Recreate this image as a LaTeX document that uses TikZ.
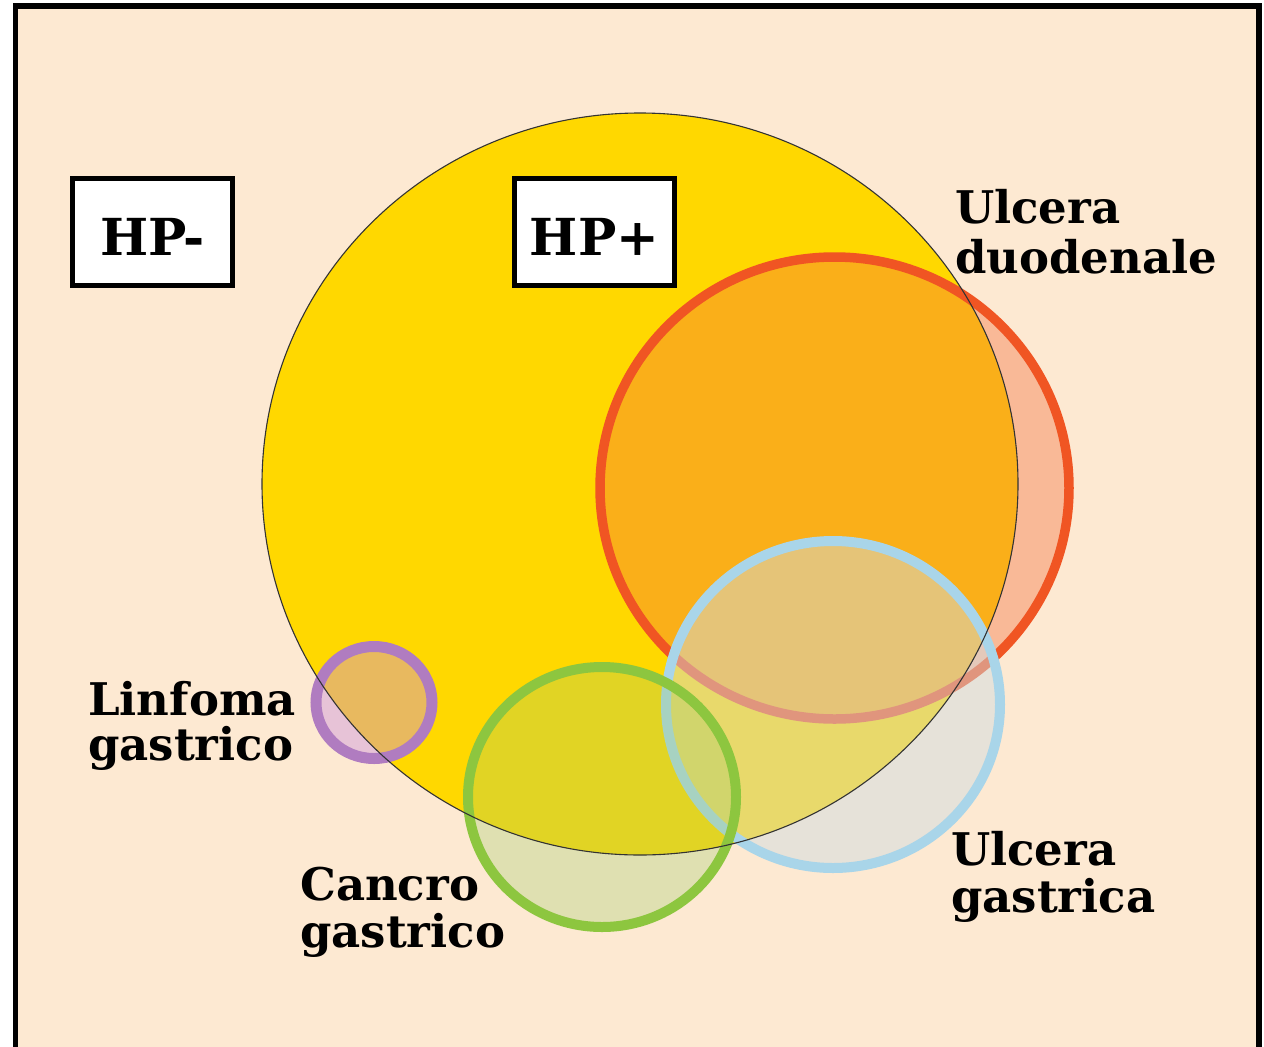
\documentclass[tikz,border=0pt]{standalone}
\usepackage{fontspec}
\setmainfont{DejaVu Serif}
\usetikzlibrary{positioning}

\definecolor{peach}{RGB}{253,233,210}
\definecolor{hpyellow}{RGB}{255,216,0}
\definecolor{duoring}{RGB}{240,85,35}
\definecolor{duofill}{RGB}{243,114,63}
\definecolor{gasring}{RGB}{169,213,233}
\definecolor{gasfill}{RGB}{207,219,225}
\definecolor{canring}{RGB}{141,198,63}
\definecolor{canfill}{RGB}{164,206,112}
\definecolor{linring}{RGB}{176,124,192}
\definecolor{linfill}{RGB}{202,146,222}

\begin{document}
\begin{tikzpicture}[
    x=1pt,
    y=-1pt,
    tagbox/.style={
        draw,
        line width=5pt,
        fill=white,
        minimum width=160pt,
        minimum height=107pt,
        inner sep=0pt,
        text height=46pt,
        text depth=0pt,
        font=\fontsize{51}{51}\selectfont\bfseries
    },
    venntext/.style={
        anchor=base west,
        align=left,
        inner sep=0pt,
        font=\fontsize{45}{47}\selectfont\bfseries
    },
    ring/.style={
        line width=9.5pt
    }
]

\useasboundingbox (0,0) rectangle (1264,1047);
\clip (0,0) rectangle (1264,1047);
\fill[white] (0,0) rectangle (1264,1047);

% Frame (open at the bottom)
\draw[line width=5.5pt, fill=peach] (15.5,5.8) rectangle (1259,1080);

% ========== HP+ AREA ==========

\fill[hpyellow] (640,484) ellipse [x radius=378pt, y radius=371pt];

% ========== DISEASES ==========

% Ulcera duodenale
\fill[duofill, fill opacity=0.4] (834.5,488) ellipse [x radius=234.5pt, y radius=231pt];
\draw[duoring, ring] (834.5,488) ellipse [x radius=234.5pt, y radius=231pt];

% Ulcera gastrica
\fill[gasfill, fill opacity=0.48] (833,704.5) ellipse [x radius=167pt, y radius=163.5pt];
\draw[gasring, ring, line width=10pt] (833,704.5) ellipse [x radius=167pt, y radius=163.5pt];

% Cancro gastrico
\fill[canfill, fill opacity=0.33] (602,797) ellipse [x radius=134pt, y radius=130pt];
\draw[canring, ring, line width=10pt] (602,797) ellipse [x radius=134pt, y radius=130pt];

% Linfoma gastrico
\fill[linfill, fill opacity=0.43] (374,702.5) ellipse [x radius=58pt, y radius=56pt];
\draw[linring, ring, line width=11pt] (374,702.5) ellipse [x radius=58pt, y radius=56pt];

% HP+ outline
\draw[line width=1.1pt, black!80] (640,484) ellipse [x radius=378pt, y radius=371pt];

% ========== TAGS ==========

\node[tagbox] (hpneg) at (152.5,232) {HP-};
\node[tagbox, right=277pt of hpneg] (hppos) {HP+};

% ========== LABELS ==========

\node[venntext] (duolabel) at (955,273) {Ulcera\\[3pt]duodenale};
\node[venntext] (linlabel) at (88,760) {Linfoma\\[-2pt]gastrico};
\node[venntext] (canlabel) at (300,947) {Cancro\\gastrico};
\node[venntext] (gaslabel) at (951,912) {Ulcera\\gastrica};

\end{tikzpicture}
\end{document}
